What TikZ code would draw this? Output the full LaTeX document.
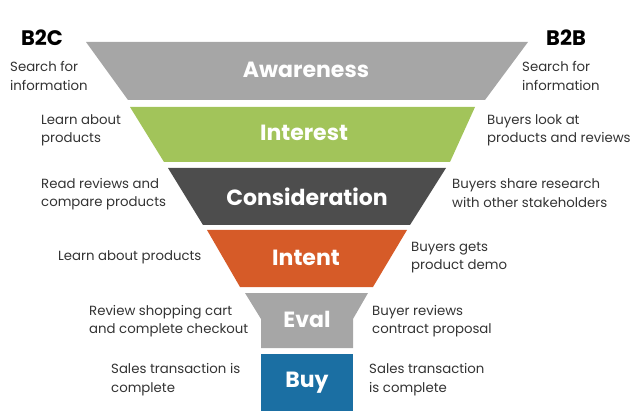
\documentclass[tikz,border=0pt]{standalone}
\usepackage{fontspec}
\setmainfont{Poppins}
\definecolor{cgray}{HTML}{A6A6A6}
\definecolor{cgreen}{HTML}{A2C45A}
\definecolor{cdark}{HTML}{4D4D4D}
\definecolor{corange}{HTML}{D65B28}
\definecolor{cblue}{HTML}{1B6FA3}
\definecolor{ctext}{HTML}{333333}
\begin{document}
\begin{tikzpicture}[x=1pt,y=-1pt,
  stage/.style={text=white,font=\fontsize{22}{24}\selectfont\bfseries,inner sep=0pt},
  side/.style={text=ctext,font=\fontsize{13.3}{18.5}\selectfont,align=left,anchor=west,inner sep=0pt},
  head/.style={text=black,font=\fontsize{21}{23}\selectfont\bfseries,inner sep=0pt}]
\useasboundingbox (0,0) rectangle (640,414);
% funnel segments
\fill[cgray]   (86,42) -- (528,42) -- (485,100) -- (128,100) -- cycle;
\fill[cgreen]  (130,107) -- (475,107) -- (450,162) -- (164,162) -- cycle;
\fill[cdark]   (168,168) -- (446,168) -- (410,225) -- (203,225) -- cycle;
\fill[corange] (207,230) -- (407,230) -- (373,287) -- (240,287) -- cycle;
\fill[cgray]   (245,293) -- (368,293) -- (353,319) -- (353,348) -- (261,348) -- (261,319) -- cycle;
\fill[cblue]   (261,354) rectangle (353,411);
% stage labels
\node[stage] (aw) at (306,70) {Awareness};
\node[stage] (in) at (304,133) {Interest};
\node[stage] (co) at (307,197) {Consideration};
\node[stage] (it) at (306,258) {Intent};
\node[stage] (ev) at (307,319) {Eval};
\node[stage] (bu) at (307,383) {Buy};
% headers
\node[head] (b2c) at (42,38) {B2C};
\node[head] (b2b) at (566,38) {B2B};
% left texts
\node[side] (l1) at (10,76) {Search for\\information};
\node[side] (l2) at (41,130.5) {Learn about\\products};
\node[side] (l3) at (41,194) {Read reviews and\\compare products};
\node[side] (l4) at (58,257) {Learn about products};
\node[side] (l5) at (89,321) {Review shopping cart\\and complete checkout};
\node[side] (l6) at (111,379.5) {Sales transaction is\\complete};
% right texts
\node[side] (r1) at (522,76) {Search for\\information};
\node[side] (r2) at (487,130.5) {Buyers look at\\products and reviews};
\node[side] (r3) at (452,193) {Buyers share research\\with other stakeholders};
\node[side] (r4) at (411,257.5) {Buyers gets\\product demo};
\node[side] (r5) at (372,321) {Buyer reviews\\contract proposal};
\node[side] (r6) at (369,379.5) {Sales transaction\\is complete};
\end{tikzpicture}
\end{document}
